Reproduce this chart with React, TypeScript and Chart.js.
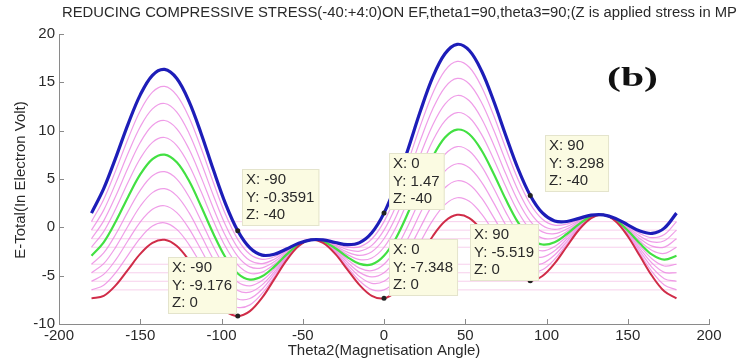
import React, { useEffect, useRef } from 'react';
import { Chart, registerables } from 'chart.js';

Chart.register(...registerables);

const TITLE = 'REDUCING COMPRESSIVE STRESS(-40:+4:0)ON EF,theta1=90,theta3=90;(Z is applied stress in MP';
const X_TITLE = 'Theta2(Magnetisation Angle)';
const Y_TITLE = 'E-Total(In Electron Volt)';
const PANEL_LABEL = '(b)';

// Theta2 sample angles (degrees)
const theta2 = [-180, -172.5, -165, -157.5, -150, -142.5, -135, -127.5, -120, -112.5, -105, -97.5, -90, -82.5, -75, -67.5, -60, -52.5, -45, -37.5, -30, -22.5, -15, -7.5, 0, 7.5, 15, 22.5, 30, 37.5, 45, 52.5, 60, 67.5, 75, 82.5, 90, 97.5, 105, 112.5, 120, 127.5, 135, 142.5, 150, 157.5, 165, 172.5, 180];

// E-Total for each applied stress Z (MPa)
const eZm40 = [1.47, 4.00, 7.24, 10.68, 13.70, 15.73, 16.34, 15.39, 13.03, 9.69, 5.95, 2.43, -0.36, -2.13, -2.87, -2.78, -2.24, -1.64, -1.29, -1.30, -1.57, -1.79, -1.58, -0.56, 1.47, 4.48, 8.19, 12.08, 15.53, 17.95, 18.93, 18.29, 16.20, 13.07, 9.48, 6.06, 3.30, 1.49, 0.66, 0.60, 0.93, 1.26, 1.29, 0.92, 0.26, -0.39, -0.63, -0.08, 1.47];
const eZm36 = [0.59, 2.89, 5.92, 9.17, 12.06, 13.99, 14.58, 13.66, 11.39, 8.18, 4.63, 1.32, -1.24, -2.79, -3.31, -3.04, -2.36, -1.67, -1.29, -1.33, -1.69, -2.05, -2.02, -1.21, 0.59, 3.37, 6.87, 10.57, 13.88, 16.22, 17.16, 16.56, 14.55, 11.56, 8.16, 4.95, 2.42, 0.84, 0.22, 0.34, 0.81, 1.23, 1.29, 0.89, 0.14, -0.65, -1.07, -0.74, 0.59];
const eZm32 = [-0.29, 1.78, 4.60, 7.67, 10.41, 12.26, 12.81, 11.92, 9.74, 6.68, 3.30, 0.21, -2.12, -3.44, -3.75, -3.30, -2.48, -1.70, -1.29, -1.36, -1.81, -2.31, -2.46, -1.87, -0.29, 2.26, 5.54, 9.07, 12.24, 14.49, 15.40, 14.83, 12.91, 10.06, 6.84, 3.84, 1.53, 0.18, -0.22, 0.08, 0.69, 1.20, 1.29, 0.86, 0.02, -0.91, -1.51, -1.39, -0.29];
const eZm28 = [-1.18, 0.67, 3.27, 6.16, 8.77, 10.53, 11.05, 10.19, 8.10, 5.17, 1.98, -0.90, -3.00, -4.09, -4.19, -3.56, -2.59, -1.73, -1.29, -1.40, -1.92, -2.57, -2.90, -2.52, -1.18, 1.15, 4.22, 7.56, 10.59, 12.75, 13.64, 13.09, 11.26, 8.55, 5.51, 2.73, 0.65, -0.47, -0.66, -0.18, 0.57, 1.17, 1.29, 0.83, -0.10, -1.17, -1.95, -2.04, -1.18];
const eZm24 = [-2.06, -0.44, 1.95, 4.66, 7.12, 8.79, 9.29, 8.46, 6.45, 3.67, 0.66, -2.01, -3.89, -4.75, -4.63, -3.81, -2.71, -1.76, -1.29, -1.43, -2.04, -2.82, -3.34, -3.17, -2.06, 0.04, 2.90, 6.06, 8.95, 11.02, 11.87, 11.36, 9.62, 7.05, 4.19, 1.62, -0.23, -1.12, -1.10, -0.43, 0.46, 1.14, 1.29, 0.80, -0.21, -1.42, -2.39, -2.70, -2.06];
const eZm20 = [-2.94, -1.55, 0.63, 3.15, 5.47, 7.06, 7.52, 6.72, 4.81, 2.16, -0.66, -3.12, -4.77, -5.40, -5.07, -4.07, -2.83, -1.79, -1.29, -1.46, -2.16, -3.08, -3.78, -3.83, -2.94, -1.07, 1.58, 4.55, 7.30, 9.29, 10.11, 9.63, 7.97, 5.54, 2.87, 0.51, -1.11, -1.78, -1.54, -0.69, 0.34, 1.11, 1.29, 0.77, -0.33, -1.68, -2.83, -3.35, -2.94];
const eZm16 = [-3.82, -2.65, -0.69, 1.65, 3.83, 5.33, 5.76, 4.99, 3.16, 0.66, -1.99, -4.23, -5.65, -6.05, -5.51, -4.33, -2.95, -1.82, -1.29, -1.49, -2.28, -3.34, -4.22, -4.48, -3.82, -2.18, 0.25, 3.05, 5.66, 7.55, 8.35, 7.89, 6.33, 4.04, 1.55, -0.60, -1.99, -2.43, -1.98, -0.95, 0.22, 1.08, 1.29, 0.74, -0.45, -1.94, -3.27, -4.00, -3.82];
const eZm12 = [-4.70, -3.76, -2.02, 0.14, 2.18, 3.59, 4.00, 3.26, 1.52, -0.85, -3.31, -5.34, -6.53, -6.71, -5.95, -4.59, -3.07, -1.85, -1.29, -1.52, -2.40, -3.60, -4.66, -5.13, -4.70, -3.29, -1.07, 1.54, 4.01, 5.82, 6.58, 6.16, 4.68, 2.53, 0.22, -1.71, -2.87, -3.08, -2.42, -1.21, 0.10, 1.05, 1.29, 0.71, -0.57, -2.20, -3.71, -4.66, -4.70];
const eZm8 = [-5.58, -4.87, -3.34, -1.36, 0.54, 1.86, 2.23, 1.52, -0.13, -2.35, -4.63, -6.45, -7.41, -7.36, -6.40, -4.85, -3.18, -1.88, -1.29, -1.55, -2.52, -3.86, -5.10, -5.79, -5.58, -4.40, -2.39, 0.04, 2.37, 4.09, 4.82, 4.43, 3.04, 1.03, -1.10, -2.82, -3.76, -3.74, -2.86, -1.47, -0.02, 1.02, 1.29, 0.68, -0.69, -2.46, -4.16, -5.31, -5.58];
const eZm4 = [-6.47, -5.98, -4.66, -2.87, -1.11, 0.13, 0.47, -0.21, -1.78, -3.86, -5.95, -7.56, -8.29, -8.02, -6.84, -5.11, -3.30, -1.91, -1.29, -1.58, -2.63, -4.12, -5.54, -6.44, -6.47, -5.51, -3.72, -1.47, 0.72, 2.35, 3.06, 2.69, 1.39, -0.48, -2.42, -3.93, -4.64, -4.39, -3.30, -1.73, -0.14, 0.99, 1.29, 0.65, -0.80, -2.72, -4.60, -5.96, -6.47];
const eZ0 = [-7.35, -7.09, -5.98, -4.37, -2.75, -1.61, -1.29, -1.94, -3.42, -5.36, -7.28, -8.67, -9.18, -8.67, -7.28, -5.36, -3.42, -1.94, -1.29, -1.61, -2.75, -4.37, -5.98, -7.09, -7.35, -6.62, -5.04, -2.97, -0.92, 0.62, 1.29, 0.96, -0.25, -1.98, -3.74, -5.04, -5.52, -5.04, -3.74, -1.98, -0.25, 0.96, 1.29, 0.62, -0.92, -2.97, -5.04, -6.62, -7.35];

// Data tips
const tipX = [-90, -90, 0, 0, 90, 90];
const tipY = [-9.176, -0.3591, 1.47, -7.348, 3.298, -5.519];
const tipZ = [0, -40, -40, 0, -40, 0];

// Styling (not data)
const BLUE = '#1d1db8';
const GREEN = '#42e042';
const RED = '#d02c48';
const MAGENTA = 'rgba(236, 140, 228, 0.85)';
const WRAP = 'rgba(240, 170, 220, 0.55)';
const AXIS = '#8a8a8a';
const TEXT = '#2a2a2a';
const FONT = '"Liberation Sans", Arial, sans-serif';
const tipBoxOffset = [[-70, -59], [4, -62], [5, -60], [5, -59], [15, -60], [-60, -57]];

const magentaSeries = [eZm36, eZm32, eZm28, eZm24, eZm16, eZm12, eZm8, eZm4];

const decorPlugin = {
  id: 'decor',
  afterDraw(chart: any) {
    const { ctx, chartArea } = chart;
    const xs = chart.scales.x;
    const ys = chart.scales.y;
    ctx.save();
    // inward tick marks
    ctx.strokeStyle = AXIS;
    ctx.lineWidth = 1;
    xs.ticks.forEach((t: any) => {
      const px = Math.round(xs.getPixelForValue(t.value)) + 0.5;
      ctx.beginPath();
      ctx.moveTo(px, chartArea.bottom);
      ctx.lineTo(px, chartArea.bottom - 5);
      ctx.stroke();
    });
    ys.ticks.forEach((t: any) => {
      const py = Math.round(ys.getPixelForValue(t.value)) + 0.5;
      ctx.beginPath();
      ctx.moveTo(chartArea.left, py);
      ctx.lineTo(chartArea.left + 5, py);
      ctx.stroke();
    });

    // data tips
    ctx.font = '15px ' + FONT;
    ctx.textAlign = 'left';
    ctx.textBaseline = 'middle';
    tipX.forEach((tx, i) => {
      const px = xs.getPixelForValue(tx);
      const py = ys.getPixelForValue(tipY[i]);
      const lines = [`X: ${tx}`, `Y: ${tipY[i]}`, `Z: ${tipZ[i]}`];
      const w = Math.max(...lines.map((l) => ctx.measureText(l).width)) + 9;
      const h = 57;
      const bx = Math.round(px + tipBoxOffset[i][0]);
      const by = Math.round(py + tipBoxOffset[i][1]);
      ctx.fillStyle = '#fbfbe2';
      ctx.fillRect(bx, by, w, h);
      ctx.strokeStyle = '#e4e4cc';
      ctx.strokeRect(bx + 0.5, by + 0.5, w - 1, h - 1);
      ctx.fillStyle = TEXT;
      lines.forEach((l, j) => ctx.fillText(l, bx + 4, by + 11 + j * 17.5));
    });

    // title
    ctx.fillStyle = TEXT;
    ctx.font = '14px ' + FONT;
    const tw = ctx.measureText(TITLE).width;
    ctx.save();
    ctx.translate(62, 13);
    ctx.scale(675 / tw, 1);
    ctx.textAlign = 'left';
    ctx.textBaseline = 'middle';
    ctx.fillText(TITLE, 0, 0);
    ctx.restore();

    // axis titles
    ctx.font = '15px ' + FONT;
    ctx.textAlign = 'center';
    ctx.textBaseline = 'middle';
    ctx.fillText(X_TITLE, (chartArea.left + chartArea.right) / 2, 351);
    ctx.save();
    ctx.translate(21, 180);
    ctx.rotate(-Math.PI / 2);
    ctx.fillText(Y_TITLE, 0, 0);
    ctx.restore();

    // panel label
    ctx.fillStyle = '#111';
    ctx.font = 'bold 28px "Liberation Serif", "Times New Roman", serif';
    const bw = ctx.measureText(PANEL_LABEL).width;
    ctx.save();
    ctx.translate(607, 79);
    ctx.scale(51 / bw, 1);
    ctx.textAlign = 'left';
    ctx.textBaseline = 'middle';
    ctx.fillText(PANEL_LABEL, 0, 0);
    ctx.restore();

    ctx.restore();
  },
};

export default function App() {
  const ref = useRef<HTMLCanvasElement | null>(null);

  useEffect(() => {
    document.body.style.margin = '0';
    const canvas = ref.current;
    if (!canvas) return;
    const toPts = (vals: number[]) => theta2.map((t, i) => ({ x: t, y: vals[i] }));
    const line = (vals: number[], color: string, width: number) => ({
      data: toPts(vals),
      borderColor: color,
      backgroundColor: color,
      borderWidth: width,
      pointRadius: 0,
      tension: 0.35,
      fill: false,
    });

    const datasets: any[] = [];
    datasets.push({
      data: tipX.map((x, i) => ({ x, y: tipY[i] })),
      showLine: false,
      pointRadius: 2.5,
      pointBackgroundColor: '#222',
      pointBorderColor: '#222',
      borderWidth: 0,
    });
    datasets.push(line(eZm40, BLUE, 3.2));
    datasets.push(line(eZ0, RED, 2));
    datasets.push(line(eZm20, GREEN, 2.2));
    magentaSeries.forEach((s) => datasets.push(line(s, MAGENTA, 1.2)));
    magentaSeries.forEach((s) =>
      datasets.push({
        data: [
          { x: theta2[0], y: s[0] },
          { x: theta2[theta2.length - 1], y: s[s.length - 1] },
        ],
        borderColor: WRAP,
        borderWidth: 1,
        pointRadius: 0,
        fill: false,
      })
    );

    const chart = new Chart(canvas, {
      type: 'line',
      data: { datasets },
      options: {
        animation: false,
        responsive: false,
        events: [],
        layout: { padding: { left: 0, right: 30, top: 34, bottom: 0 } },
        plugins: { legend: { display: false }, tooltip: { enabled: false }, title: { display: false } },
        scales: {
          x: {
            type: 'linear',
            min: -200,
            max: 200,
            grid: { display: false, drawTicks: false },
            border: { display: true, color: AXIS, width: 1 },
            ticks: { stepSize: 50, color: TEXT, font: { size: 15, family: FONT }, padding: 3, maxRotation: 0 },
            afterFit: (s: any) => { s.height = 40; },
          },
          y: {
            type: 'linear',
            min: -10,
            max: 20,
            grid: { display: false, drawTicks: false },
            border: { display: true, color: AXIS, width: 1 },
            ticks: { stepSize: 5, color: TEXT, font: { size: 15, family: FONT }, padding: 4 },
            afterFit: (s: any) => { s.width = 59; },
          },
        },
      } as any,
      plugins: [decorPlugin],
    });
    return () => chart.destroy();
  }, []);

  return (
    <div style={{ width: 739, height: 364 }}>
      <canvas ref={ref} width={739} height={364} style={{ display: 'block', width: 739, height: 364 }} />
    </div>
  );
}
